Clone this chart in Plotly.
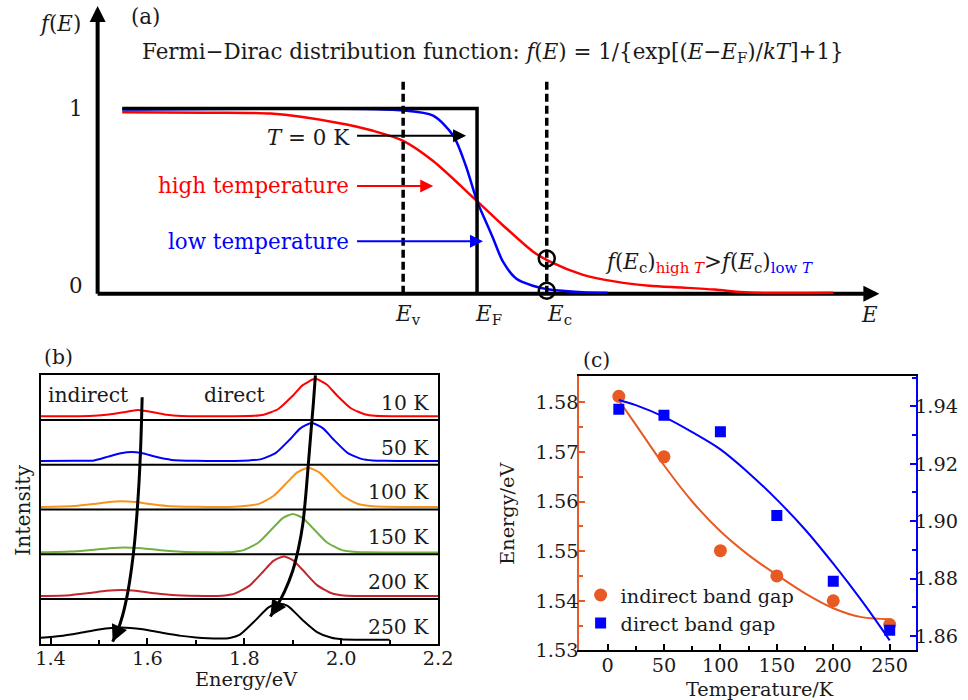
import plotly.graph_objects as go

# design coordinates are in the 968x700 target picture; the page is captured slightly larger,
# so the figure is enlarged by the same factor (paper fractions stay q/968, q/700)
W, H = 968, 700
FW, FH = 984, 716
SF = 1.017
FONT = "DejaVu Serif"
TXT = "#1a1a1a"

# ---------------- Panel (a): schematic Fermi-Dirac curves (arbitrary energy units, E_F = 0)
E_step = [-5.09, 0.0, 0.0]
f_step = [1.0, 1.0, 0.0]
E_high = [-5.09, -3.91, -2.96, -2.01, -1.49, -1.06, -0.63, 0.0, 0.37, 0.80, 1.04, 1.51, 1.99, 2.47, 2.94, 3.41, 3.90, 5.11]
f_high = [0.980, 0.978, 0.973, 0.924, 0.880, 0.826, 0.717, 0.50, 0.37, 0.228, 0.174, 0.103, 0.065, 0.043, 0.033, 0.022, 0.006, 0.005]
E_low = [-5.09, -1.06, -0.63, -0.34, -0.16, 0.0, 0.09, 0.23, 0.37, 0.56, 0.80, 1.04, 1.51, 1.87]
f_low = [0.995, 0.990, 0.962, 0.853, 0.69, 0.50, 0.42, 0.30, 0.174, 0.082, 0.043, 0.022, 0.008, 0.005]
E_v, E_F, E_c = -1.06, 0.0, 1.0
fEc_high, fEc_low = 0.19, 0.016

# ---------------- Panel (b): PL spectra, one strip per temperature (top to bottom)
temps_b = ["10 K", "50 K", "100 K", "150 K", "200 K", "250 K"]
colors_b = ["#FF0000", "#0000FF", "#F7941D", "#72B043", "#C1272D", "#000000"]
spec_E = [
    [1.38, 1.46, 1.49, 1.52, 1.55, 1.58, 1.61, 1.64, 1.67, 1.72, 1.78, 1.82, 1.84, 1.87, 1.90, 1.92, 1.946, 1.97, 1.99, 2.02, 2.05, 2.07, 2.10, 2.14, 2.20],
    [1.38, 1.45, 1.49, 1.52, 1.545, 1.567, 1.59, 1.615, 1.65, 1.70, 1.78, 1.81, 1.835, 1.865, 1.895, 1.915, 1.939, 1.963, 1.983, 2.013, 2.043, 2.065, 2.09, 2.14, 2.20],
    [1.38, 1.45, 1.49, 1.52, 1.546, 1.575, 1.60, 1.64, 1.70, 1.78, 1.81, 1.83, 1.86, 1.89, 1.91, 1.932, 1.955, 1.975, 2.005, 2.035, 2.06, 2.09, 2.14, 2.20],
    [1.38, 1.44, 1.49, 1.53, 1.553, 1.58, 1.62, 1.67, 1.72, 1.76, 1.78, 1.80, 1.83, 1.86, 1.88, 1.90, 1.92, 1.94, 1.97, 2.00, 2.02, 2.05, 2.12, 2.20],
    [1.38, 1.44, 1.48, 1.515, 1.546, 1.58, 1.615, 1.66, 1.72, 1.745, 1.76, 1.78, 1.81, 1.84, 1.86, 1.881, 1.90, 1.92, 1.95, 1.98, 2.00, 2.03, 2.10, 2.20],
    [1.38, 1.42, 1.46, 1.50, 1.546, 1.59, 1.63, 1.67, 1.70, 1.725, 1.75, 1.77, 1.79, 1.82, 1.85, 1.871, 1.89, 1.92, 1.95, 1.98, 2.00, 2.03, 2.10, 2.20],
]
spec_I = [
    [0.080, 0.082, 0.090, 0.120, 0.170, 0.220, 0.175, 0.115, 0.088, 0.080, 0.080, 0.090, 0.115, 0.243, 0.540, 0.770, 0.917, 0.790, 0.560, 0.260, 0.120, 0.092, 0.082, 0.080, 0.080],
    [0.083, 0.085, 0.095, 0.183, 0.255, 0.285, 0.255, 0.180, 0.106, 0.085, 0.083, 0.095, 0.123, 0.263, 0.574, 0.806, 0.930, 0.806, 0.574, 0.263, 0.123, 0.095, 0.085, 0.083, 0.083],
    [0.056, 0.076, 0.122, 0.164, 0.180, 0.163, 0.125, 0.077, 0.057, 0.057, 0.085, 0.123, 0.299, 0.621, 0.831, 0.930, 0.822, 0.609, 0.290, 0.120, 0.075, 0.058, 0.056, 0.056],
    [0.040, 0.057, 0.101, 0.140, 0.148, 0.137, 0.097, 0.054, 0.040, 0.040, 0.055, 0.096, 0.267, 0.596, 0.810, 0.898, 0.810, 0.596, 0.267, 0.096, 0.058, 0.040, 0.038, 0.038],
    [0.065, 0.084, 0.130, 0.180, 0.200, 0.176, 0.125, 0.079, 0.063, 0.066, 0.078, 0.119, 0.290, 0.625, 0.850, 0.950, 0.867, 0.651, 0.308, 0.125, 0.082, 0.065, 0.063, 0.063],
    [0.131, 0.171, 0.240, 0.317, 0.360, 0.320, 0.244, 0.174, 0.138, 0.120, 0.114, 0.128, 0.195, 0.490, 0.810, 0.900, 0.840, 0.530, 0.260, 0.130, 0.100, 0.090, 0.090],
]
# curved guide arrows (energy, strip units from bottom)
ind_arrow_E = [1.5891, 1.5877, 1.5856, 1.5826, 1.5785, 1.5733, 1.5672, 1.5590, 1.5487, 1.5385, 1.5282]
ind_arrow_y = [5.506, 4.944, 4.270, 3.596, 2.921, 2.247, 1.685, 1.124, 0.629, 0.292, 0.045]
dir_arrow_E = [1.9467, 1.9426, 1.9374, 1.9323, 1.9272, 1.9210, 1.9118, 1.8995, 1.8831, 1.8667, 1.8537]
dir_arrow_y = [6.000, 5.393, 4.719, 4.045, 3.371, 2.697, 2.135, 1.618, 1.169, 0.831, 0.607]

# ---------------- Panel (c): band gaps vs temperature
T_pts = [10, 50, 100, 150, 200, 250]
Eg_indirect = [1.5812, 1.5690, 1.5501, 1.5450, 1.5400, 1.5352]
Eg_direct = [1.9390, 1.9369, 1.9311, 1.9020, 1.8791, 1.8620]
T_fit = [10, 25, 50, 75, 100, 125, 150, 175, 200, 225, 250]
fit_indirect = [1.5804, 1.5755, 1.5673, 1.5600, 1.5540, 1.5492, 1.5452, 1.5415, 1.5385, 1.5367, 1.5363]
fit_direct = [1.9422, 1.9404, 1.9363, 1.9310, 1.9250, 1.9168, 1.9075, 1.8971, 1.8852, 1.8724, 1.8585]

ORANGE = "#E85A24"
BLUE = "#0000FF"

def fs(v):
    return round(v * SF, 1)

fig = go.Figure()

# ---- panel (a) traces
fig.add_trace(go.Scatter(x=E_high, y=f_high, mode="lines", line=dict(color="#FF0000", width=2.5, shape="spline", smoothing=0.8),
                         xaxis="x", yaxis="y", showlegend=False, hoverinfo="skip"))
fig.add_trace(go.Scatter(x=E_low, y=f_low, mode="lines", line=dict(color="#0000FF", width=2.5, shape="spline", smoothing=0.8),
                         xaxis="x", yaxis="y", showlegend=False, hoverinfo="skip"))
fig.add_trace(go.Scatter(x=E_step, y=f_step, mode="lines", line=dict(color="#000000", width=3.5),
                         xaxis="x", yaxis="y", showlegend=False, hoverinfo="skip"))
fig.add_trace(go.Scatter(x=[E_c, E_c], y=[fEc_high, fEc_low], mode="markers",
                         marker=dict(symbol="circle-open", size=16, color="black", line=dict(width=2.5)),
                         xaxis="x", yaxis="y", showlegend=False, hoverinfo="skip"))

# ---- panel (b) traces
n_b = len(temps_b)
for k, (lab, col) in enumerate(zip(temps_b, colors_b)):
    off = n_b - 1 - k
    fig.add_trace(go.Scatter(x=spec_E[k], y=[v + off for v in spec_I[k]], mode="lines",
                             line=dict(color=col, width=2, shape="spline", smoothing=0.6),
                             xaxis="x2", yaxis="y2", showlegend=False, hoverinfo="skip"))
fig.add_trace(go.Scatter(x=ind_arrow_E, y=ind_arrow_y, mode="lines", line=dict(color="black", width=3, shape="spline", smoothing=0.6),
                         xaxis="x2", yaxis="y2", showlegend=False, hoverinfo="skip"))
fig.add_trace(go.Scatter(x=dir_arrow_E, y=dir_arrow_y, mode="lines", line=dict(color="black", width=3, shape="spline", smoothing=0.6),
                         xaxis="x2", yaxis="y2", showlegend=False, hoverinfo="skip"))

# ---- panel (c) traces
fig.add_trace(go.Scatter(x=T_fit, y=fit_indirect, mode="lines", line=dict(color=ORANGE, width=2, shape="spline"),
                         xaxis="x3", yaxis="y3", showlegend=False, hoverinfo="skip"))
fig.add_trace(go.Scatter(x=T_fit, y=fit_direct, mode="lines", line=dict(color=BLUE, width=2, shape="spline"),
                         xaxis="x3", yaxis="y4", showlegend=False, hoverinfo="skip"))
fig.add_trace(go.Scatter(x=T_pts, y=Eg_indirect, mode="markers", name="indirect band gap",
                         marker=dict(symbol="circle", size=13, color=ORANGE),
                         xaxis="x3", yaxis="y3"))
fig.add_trace(go.Scatter(x=T_pts, y=Eg_direct, mode="markers", name="direct band gap",
                         marker=dict(symbol="square", size=11, color=BLUE),
                         xaxis="x3", yaxis="y4"))

# ---------------- layout helpers (target-picture pixel -> paper fraction)
def px_x(p):
    return p / W

def px_y(p):
    return 1 - p / H

# panel (a) axis maps: pixel = 474 + 70*E ; pixel_y = 292 - 184*f
xa_range = [(0 - 474) / 70, (W - 474) / 70]
ya_range = [(292 - 350) / 184, 292 / 184]

tickfont = dict(family=FONT, size=fs(19), color=TXT)

fig.update_layout(
    width=FW, height=FH, margin=dict(l=0, r=0, t=0, b=0),
    paper_bgcolor="white", plot_bgcolor="rgba(0,0,0,0)",
    font=dict(family=FONT, size=fs(20), color=TXT),
    xaxis=dict(domain=[0, 1], range=xa_range, visible=False, anchor="y"),
    yaxis=dict(domain=[0.5, 1], range=ya_range, visible=False, anchor="x"),
    xaxis2=dict(domain=[px_x(36), px_x(435)], range=[1.38, 2.2001], anchor="y2",
                tick0=1.4, dtick=0.2, tickformat=".1f", ticks="inside", ticklen=6, tickwidth=1.5, tickcolor="black",
                minor=dict(dtick=0.1, ticks="inside", ticklen=4, tickcolor="black"), ticklabelstandoff=-4,
                showline=True, linecolor="black", linewidth=2, mirror=True, showgrid=False, zeroline=False,
                tickfont=tickfont),
    yaxis2=dict(domain=[px_y(640), px_y(373)], range=[0, 6], anchor="x2",
                showticklabels=False, ticks="", showline=True, linecolor="black", linewidth=2, mirror=True,
                showgrid=False, zeroline=False),
    xaxis3=dict(domain=[px_x(576.7), px_x(915)], range=[-25, 273.5], anchor="y3",
                tickvals=[0, 50, 100, 150, 200, 250], ticks="inside", ticklen=6, tickwidth=1.5, tickcolor="black",
                minor=dict(dtick=25, tick0=0, ticks="inside", ticklen=4, tickcolor="black"), ticklabelstandoff=-4,
                showline=True, linecolor="black", linewidth=2, mirror=True, showgrid=False, zeroline=False,
                tickfont=tickfont),
    yaxis3=dict(domain=[px_y(646.7), px_y(374.3)], range=[1.53, 1.5852], anchor="x3",
                dtick=0.01, tick0=1.53, tickformat=".2f", ticks="inside", ticklen=6, tickwidth=1.5, tickcolor=ORANGE,
                minor=dict(dtick=0.005, ticks="inside", ticklen=4, tickcolor=ORANGE), ticklabelstandoff=-5,
                showline=True, linecolor=ORANGE, linewidth=2, showgrid=False, zeroline=False,
                tickfont=tickfont),
    yaxis4=dict(domain=[px_y(646.7), px_y(374.3)], range=[1.855, 1.9504], anchor="x3", overlaying="y3", side="right",
                dtick=0.02, tick0=1.86, tickformat=".2f", ticks="inside", ticklen=6, tickwidth=1.5, tickcolor=BLUE,
                minor=dict(dtick=0.01, ticks="inside", ticklen=4, tickcolor=BLUE), ticklabelstandoff=-7,
                showline=True, linecolor=BLUE, linewidth=2, showgrid=False, zeroline=False,
                tickfont=tickfont),
    legend=dict(x=px_x(578), y=px_y(606), xanchor="left", yanchor="middle", bgcolor="rgba(0,0,0,0)",
                font=dict(family=FONT, size=fs(19), color=TXT), tracegroupgap=0, itemwidth=30),
)

shapes = []
# panel (a) axes lines (drawn below curves)
E_axis0 = (93 - 474) / 70
shapes.append(dict(type="line", xref="x", yref="y", x0=E_axis0, x1=(868 - 474) / 70, y0=0, y1=0,
                   line=dict(color="black", width=4), layer="below"))
shapes.append(dict(type="line", xref="x", yref="y", x0=E_axis0, x1=E_axis0, y0=0, y1=(292 - 20) / 184,
                   line=dict(color="black", width=4), layer="below"))
# dashed E_v / E_c lines
for ev in (E_v, E_c):
    shapes.append(dict(type="line", xref="x", yref="y", x0=ev, x1=ev, y0=0, y1=1.163,
                       line=dict(color="black", width=3.5, dash="8px,4px")))
# panel (b) strip separators
for k in range(1, n_b):
    shapes.append(dict(type="line", xref="x2 domain", yref="y2", x0=0, x1=1, y0=k, y1=k,
                       line=dict(color="black", width=2)))
fig.update_layout(shapes=shapes)

ann = []
def A(size=20, color=TXT, **kw):
    base = dict(showarrow=False, font=dict(family=FONT, size=fs(size), color=color))
    base.update(kw)
    ann.append(base)

# axis arrowheads panel (a)
ann.append(dict(x=E_axis0, y=(292 - 6) / 184, xref="x", yref="y", ax=0, ay=14, showarrow=True,
                arrowhead=2, arrowsize=0.8, arrowwidth=4, arrowcolor="black", text=""))
ann.append(dict(x=(878 - 474) / 70, y=0, xref="x", yref="y", ax=-16, ay=0, showarrow=True,
                arrowhead=2, arrowsize=0.8, arrowwidth=4, arrowcolor="black", text=""))
# labelled arrows panel (a)
tail_E = (352 - 474) / 70
for (hx, hy, col) in [((463 - 474) / 70, 0.853, "black"), ((430 - 474) / 70, 0.582, "#FF0000"),
                      ((480 - 474) / 70, 0.283, "#0000FF")]:
    ann.append(dict(x=hx, y=hy, ax=tail_E, ay=hy, xref="x", yref="y", axref="x", ayref="y", showarrow=True,
                    arrowhead=2, arrowsize=1.3, arrowwidth=2, arrowcolor=col, text=""))

A(size=21, x=(136 - 474) / 70, y=1.299, xref="x", yref="y", xanchor="left", yanchor="middle",
  text="Fermi\u2212Dirac distribution function: <i>f</i>(<i>E</i>) = 1/{exp[(<i>E</i>\u2212<i>E</i><sub>F</sub>)/<i>kT</i>]+1}")
A(size=21, x=(125 - 474) / 70, y=1.50, xref="x", yref="y", xanchor="left", yanchor="middle", text="(a)")
A(size=21, x=(78 - 474) / 70, y=1.462, xref="x", yref="y", xanchor="right", yanchor="middle", text="<i>f</i>(<i>E</i>)")
A(size=21, x=(80 - 474) / 70, y=1.0, xref="x", yref="y", xanchor="right", yanchor="middle", text="1")
A(size=21, x=(80 - 474) / 70, y=0.0435, xref="x", yref="y", xanchor="right", yanchor="middle", text="0")
A(size=21, x=(348 - 474) / 70, y=0.842, xref="x", yref="y", xanchor="right", yanchor="middle", text="<i>T</i> = 0 K")
A(size=21, color="#FF0000", x=(347 - 474) / 70, y=0.582, xref="x", yref="y", xanchor="right", yanchor="middle",
  text="high temperature")
A(size=21, color="#0000FF", x=(347 - 474) / 70, y=0.283, xref="x", yref="y", xanchor="right", yanchor="middle",
  text="low temperature")
A(size=21, x=(600 - 474) / 70, y=0.168, xref="x", yref="y", xanchor="left", yanchor="middle",
  text="<i>f</i>(<i>E</i><sub>c</sub>)<sub><span style='color:#FF0000'>high <i>T</i></span></sub>&gt;"
       "<i>f</i>(<i>E</i><sub>c</sub>)<sub><span style='color:#0000FF'>low <i>T</i></span></sub>")
for lab, lx in [("<i>E</i><sub>v</sub>", 390), ("<i>E</i><sub>F</sub>", 470), ("<i>E</i><sub>c</sub>", 542), ("<i>E</i>", 858)]:
    A(size=21, x=(lx - 474) / 70, y=(292 - 313) / 184, xref="x", yref="y", xanchor="left", yanchor="middle", text=lab)

# panel (b) labels
A(x=1.391, y=5.55, xref="x2", yref="y2", xanchor="left", yanchor="middle", text="indirect")
A(x=1.713, y=5.55, xref="x2", yref="y2", xanchor="left", yanchor="middle", text="direct")
for k, lab in enumerate(temps_b):
    A(x=2.185, y=(n_b - 1 - k) + 0.38, xref="x2", yref="y2", xanchor="right", yanchor="middle", text=lab)
ann.append(dict(x=ind_arrow_E[-1], y=ind_arrow_y[-1], ax=ind_arrow_E[-2], ay=ind_arrow_y[-2], xref="x2", yref="y2",
                axref="x2", ayref="y2", showarrow=True, arrowhead=2, arrowsize=1.1, arrowwidth=3, arrowcolor="black", text=""))
ann.append(dict(x=dir_arrow_E[-1], y=dir_arrow_y[-1], ax=dir_arrow_E[-2], ay=dir_arrow_y[-2], xref="x2", yref="y2",
                axref="x2", ayref="y2", showarrow=True, arrowhead=2, arrowsize=1.1, arrowwidth=3, arrowcolor="black", text=""))
A(x=px_x(37), y=px_y(355), xref="paper", yref="paper", xanchor="left", yanchor="middle", text="(b)")
A(x=px_x(18), y=px_y(507), xref="paper", yref="paper", xanchor="center", yanchor="middle", text="Intensity", textangle=-90)
A(size=19, x=px_x(243), y=px_y(676), xref="paper", yref="paper", xanchor="center", yanchor="middle", text="Energy/eV")

# panel (c) labels
A(x=px_x(578), y=px_y(358), xref="paper", yref="paper", xanchor="left", yanchor="middle", text="(c)")
A(size=19, x=px_x(505), y=px_y(510), xref="paper", yref="paper", xanchor="center", yanchor="middle", text="Energy/eV", textangle=-90)
A(size=19, x=px_x(758), y=px_y(686), xref="paper", yref="paper", xanchor="center", yanchor="middle", text="Temperature/K")

fig.update_layout(annotations=ann)
fig.write_html("out.html", config={"displayModeBar": False}, post_script="document.body.style.margin='0px';")
